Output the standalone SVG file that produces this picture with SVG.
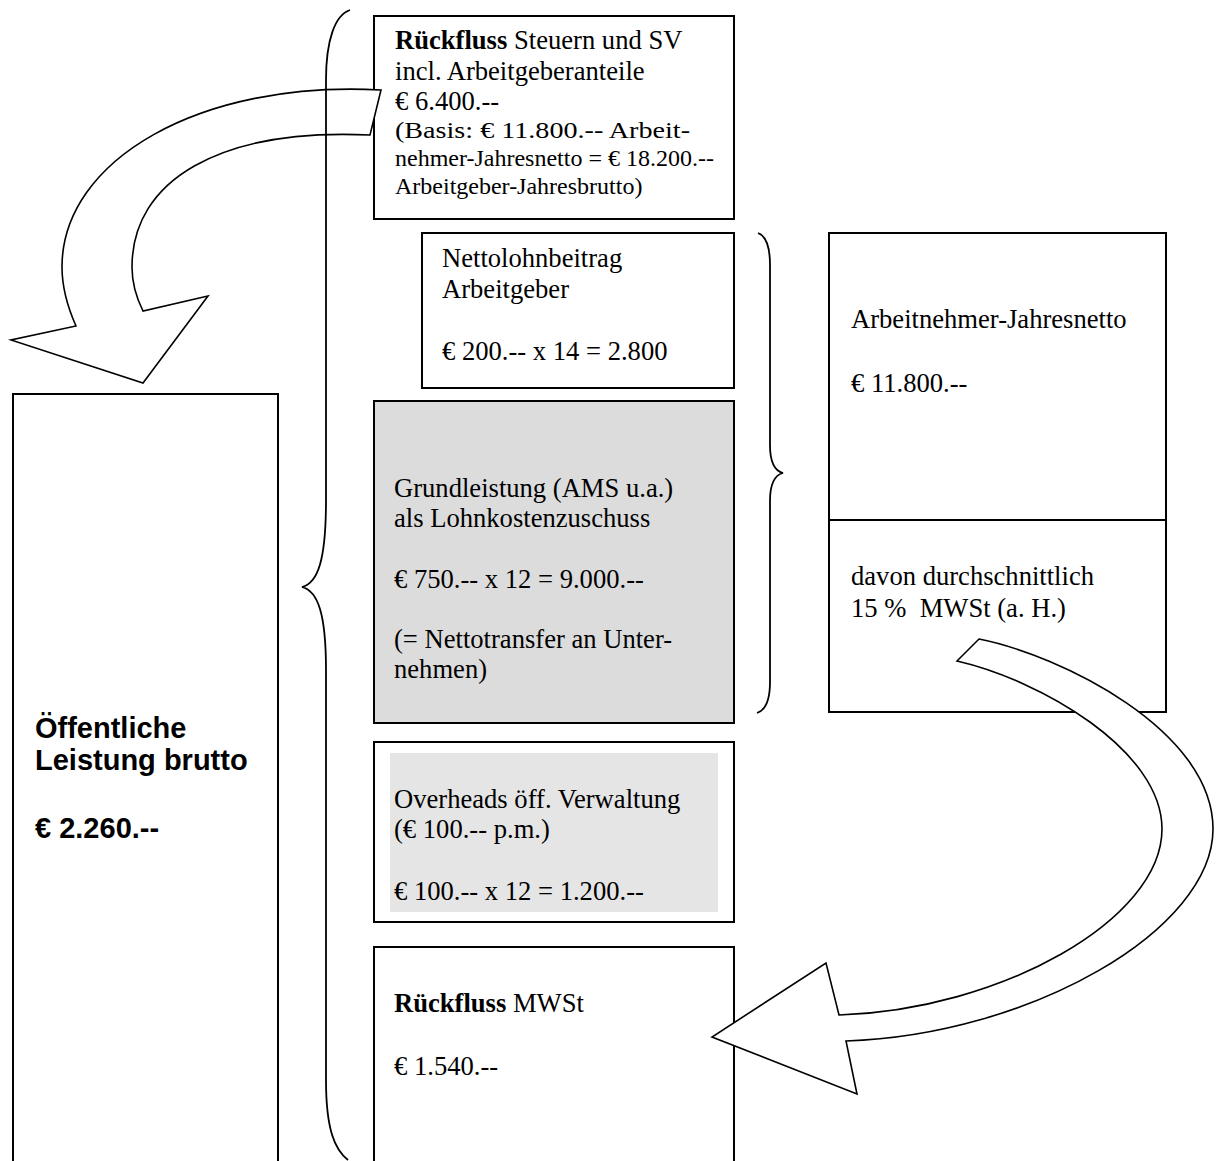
<svg xmlns="http://www.w3.org/2000/svg" width="1216" height="1161" viewBox="0 0 1216 1161">
<style>
.box{fill:#ffffff;stroke:#000000;stroke-width:2}
.grey{fill:#dcdcdc}
.t{font-family:"Liberation Serif","Times New Roman",serif;font-size:26.6px;fill:#000}
.s{font-family:"Liberation Serif","Times New Roman",serif;font-size:24px;fill:#000}
.b{font-weight:bold}
.a{font-family:"Liberation Sans",Arial,sans-serif;font-size:29px;font-weight:bold;fill:#000}
.arrow{fill:#ffffff;stroke:#000000;stroke-width:1.6;stroke-linejoin:miter}
.brace{fill:none;stroke:#000000;stroke-width:1.8}
</style>
<rect x="0" y="0" width="1216" height="1161" fill="#ffffff"/>

<g id="node-oeffentliche-leistung">
<rect class="box" x="13" y="394" width="265" height="800"/>
<text class="a" x="35" y="738">Öffentliche</text>
<text class="a" x="35" y="770">Leistung brutto</text>
<text class="a" x="35" y="838">€ 2.260.--</text>
</g>

<g id="node-rueckfluss-steuern">
<rect class="box" x="374" y="16" width="360" height="203"/>
<text class="t" x="395" y="49"><tspan class="b">Rückfluss</tspan> Steuern und SV</text>
<text class="t" x="395" y="80">incl. Arbeitgeberanteile</text>
<text class="t" x="395" y="110">€ 6.400.--</text>
<text class="s" x="395" y="138" textLength="295" lengthAdjust="spacingAndGlyphs">(Basis: € 11.800.-- Arbeit-</text>
<text class="s" x="395" y="166">nehmer-Jahresnetto = € 18.200.--</text>
<text class="s" x="395" y="194">Arbeitgeber-Jahresbrutto)</text>
</g>

<g id="node-nettolohnbeitrag">
<rect class="box" x="422" y="233" width="312" height="155"/>
<text class="t" x="442" y="267">Nettolohnbeitrag</text>
<text class="t" x="442" y="298">Arbeitgeber</text>
<text class="t" x="442" y="360">€ 200.-- x 14 = 2.800</text>
</g>

<g id="node-grundleistung">
<rect class="box grey" x="374" y="401" width="360" height="322"/>
<text class="t" x="394" y="497">Grundleistung (AMS u.a.)</text>
<text class="t" x="394" y="527">als Lohnkostenzuschuss</text>
<text class="t" x="394" y="588">€ 750.-- x 12 = 9.000.--</text>
<text class="t" x="394" y="648">(= Nettotransfer an Unter-</text>
<text class="t" x="394" y="678">nehmen)</text>
</g>

<g id="node-overheads">
<rect class="box" x="374" y="742" width="360" height="180"/>
<rect x="390" y="753" width="328" height="159" fill="#e5e5e5"/>
<text class="t" x="394" y="808">Overheads öff. Verwaltung</text>
<text class="t" x="394" y="838">(€ 100.-- p.m.)</text>
<text class="t" x="394" y="900">€ 100.-- x 12 = 1.200.--</text>
</g>

<g id="node-rueckfluss-mwst">
<rect class="box" x="374" y="947" width="360" height="240"/>
<text class="t" x="394" y="1012"><tspan class="b">Rückfluss</tspan> MWSt</text>
<text class="t" x="394" y="1075">€ 1.540.--</text>
</g>

<g id="node-arbeitnehmer-jahresnetto">
<rect class="box" x="829" y="233" width="337" height="479"/>
<line x1="829" y1="520" x2="1166" y2="520" stroke="#000" stroke-width="2"/>
<text class="t" x="851" y="328">Arbeitnehmer-Jahresnetto</text>
<text class="t" x="851" y="392">€ 11.800.--</text>
<text class="t" x="851" y="585">davon durchschnittlich</text>
<text class="t" x="851" y="617" style="white-space:pre">15 %  MWSt (a. H.)</text>
</g>

<g id="connectors">
<path id="arrow-steuern" class="arrow" d="M381,90 C200,80 62,160 62,267 C62,290 68,308 76,326 L11,340 L143,383 L208,296 L143,311 C136,297 132,280 132,267 C132,180 220,128 370,135 Z"/>
<path id="arrow-mwst" class="arrow" d="M979,639 C1060,655 1213,730 1213,829 C1213,930 1030,1035 846,1041 L857,1094 L712,1037 L826,963 L839,1015 C1000,1010 1162,920 1162,829 C1162,750 1040,680 957,661 Z"/>
<path id="brace-left" class="brace" d="M350,10 C335,15 326,40 326,80 L326,500 C326,560 318,583 302,587 C318,591 326,614 326,670 L326,1080 C326,1130 335,1150 348,1160"/>
<path id="brace-right" class="brace" d="M758,233 C766,236 770,248 770,265 L770,445 C770,462 775,471 783,473 C775,475 770,484 770,501 L770,682 C770,700 766,710 757,713"/>
</g>
</svg>
